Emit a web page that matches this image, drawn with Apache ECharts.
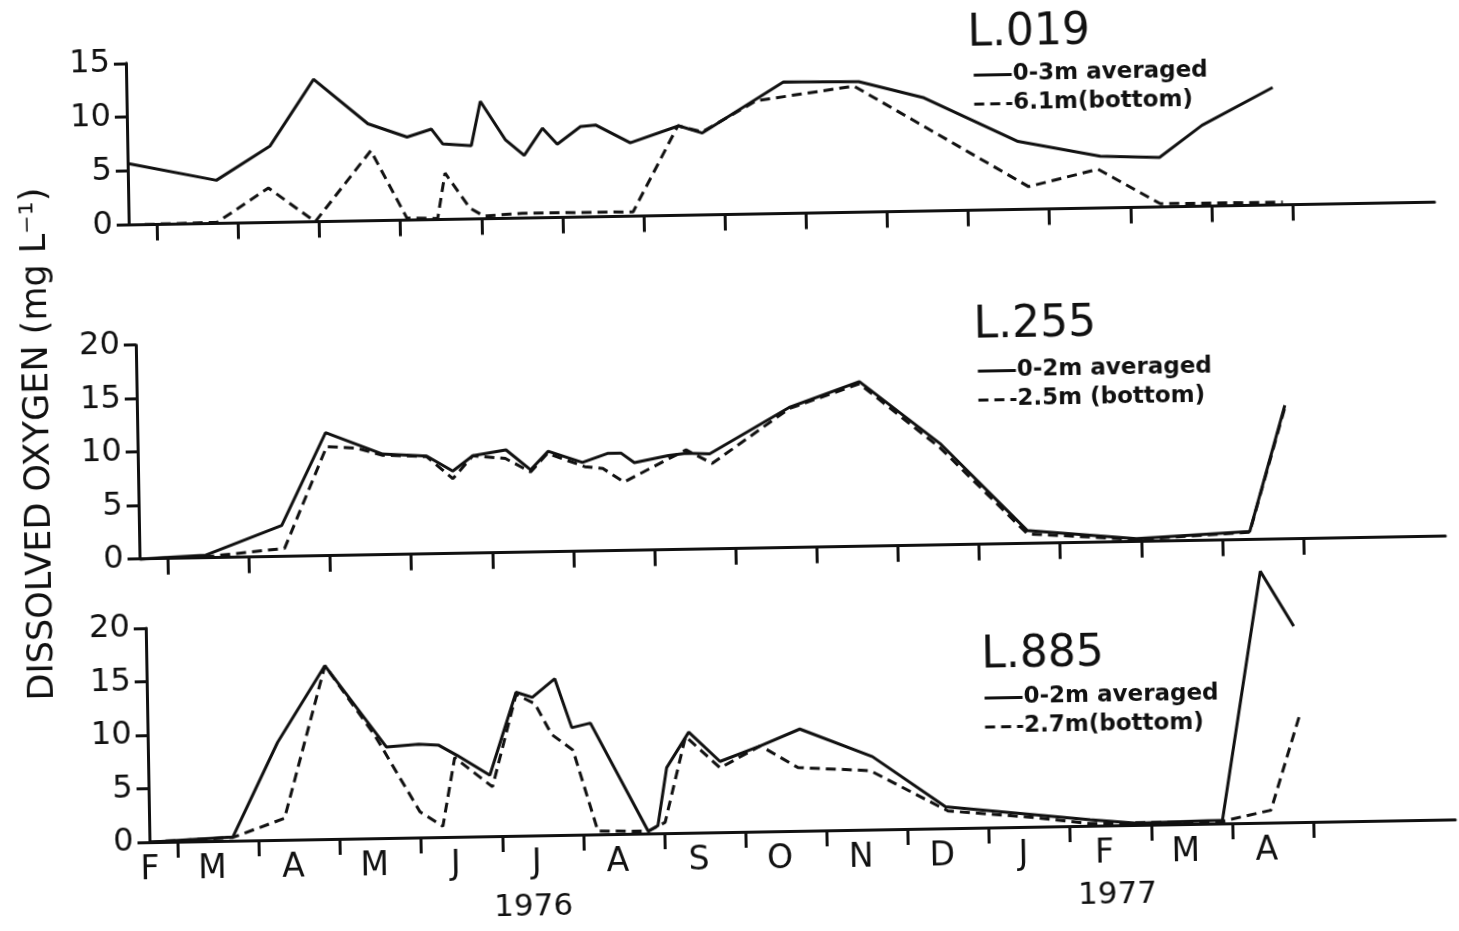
<!DOCTYPE html>
<html>
<head>
<meta charset="utf-8">
<title>Dissolved oxygen - L.019, L.255, L.885</title>
<script src="https://cdn.jsdelivr.net/npm/echarts@6/dist/echarts.min.js"></script>
<style>
  html, body { margin: 0; padding: 0; background: #fff; overflow: hidden; }
  /* the scanned figure sits about one degree off level */
  #chart { width: 1459px; height: 931px; transform: rotate(-1deg); }
</style>
</head>
<body>
<div id="chart"></div>
<script>
// x = months counted from 1 Jan 1976 (2 = 1 Mar 1976, 14 = 1 Mar 1977)
const monthLetters = ['F', 'M', 'A', 'M', 'J', 'J', 'A', 'S', 'O', 'N', 'D', 'J', 'F', 'M', 'A'];
const monthTicks = [2, 3, 4, 5, 6, 7, 8, 9, 10, 11, 12, 13, 14, 15, 16];
const yearLabels = ['1976', '1977'];

// L.019
const l019SurfMonths = [1.65, 2.74, 3.41, 3.96, 4.62, 5.10, 5.40, 5.54, 5.89, 6.01, 6.31, 6.54, 6.77, 6.95, 7.24, 7.43, 7.85, 8.45, 8.74, 9.75, 10.68, 11.48, 12.63, 13.64, 14.37, 14.90, 15.78];
const l019Surf = [5.7, 4.0, 7.1, 13.2, 9.0, 7.7, 8.4, 7.0, 6.8, 10.9, 7.3, 5.8, 8.3, 6.8, 8.4, 8.5, 6.8, 8.3, 7.6, 12.2, 12.1, 10.5, 6.3, 4.8, 4.6, 7.5, 10.9];
const l019BotMonths = [1.65, 2.74, 3.38, 3.95, 4.65, 5.08, 5.46, 5.56, 5.86, 6.03, 6.50, 7.87, 8.44, 8.74, 9.41, 10.62, 12.75, 13.61, 14.37, 15.88];
const l019Bot = [0, 0.1, 3.2, 0, 6.5, 0.2, 0.1, 4.3, 1.0, 0.25, 0.45, 0.4, 8.3, 7.7, 10.5, 11.7, 2.1, 3.6, 0.3, 0.25];

// L.255
const l255SurfMonths = [1.66, 2.47, 3.41, 3.97, 4.67, 5.21, 5.53, 5.78, 6.19, 6.49, 6.71, 7.13, 7.44, 7.61, 7.77, 8.19, 8.41, 8.70, 9.69, 10.56, 11.54, 12.60, 13.94, 15.34, 15.80];
const l255Surf = [0, 0.26, 2.9, 11.5, 9.4, 9.15, 7.7, 9.1, 9.6, 7.7, 9.4, 8.3, 9.1, 9.1, 8.2, 8.8, 9.0, 8.9, 13.1, 15.4, 9.5, 1.2, 0.27, 0.77, 12.5];
const l255BotMonths = [1.66, 2.47, 3.44, 3.98, 4.35, 4.67, 5.21, 5.53, 5.78, 6.18, 6.49, 6.70, 7.16, 7.38, 7.64, 8.19, 8.41, 8.73, 9.69, 10.56, 11.54, 12.60, 13.94, 15.34, 15.80];
const l255Bot = [0, 0.1, 0.76, 10.2, 10.0, 9.3, 9.1, 7.0, 9.1, 8.8, 7.5, 9.2, 7.9, 7.7, 6.4, 8.5, 9.3, 8.0, 13.0, 15.2, 9.1, 0.9, 0.2, 0.7, 12.3];

// L.885
const l885SurfMonths = [1.65, 2.68, 3.25, 3.85, 4.59, 4.99, 5.23, 5.46, 5.86, 6.20, 6.40, 6.68, 6.88, 7.11, 7.80, 7.92, 8.04, 8.32, 8.70, 9.20, 9.69, 10.58, 11.47, 13.25, 13.82, 14.88, 15.40, 15.80];
const l885Surf = [0, 0.35, 9.1, 16.2, 8.5, 8.7, 8.6, 7.6, 5.7, 13.4, 12.9, 14.6, 10.0, 10.4, 0.2, 0.7, 6.1, 9.4, 6.6, 8.0, 9.5, 6.8, 2.0, 0.55, 0.15, 0.3, 23.5, 18.3];
const l885BotMonths = [1.65, 2.68, 3.32, 3.85, 4.45, 4.99, 5.27, 5.43, 5.89, 6.20, 6.43, 6.63, 6.89, 7.18, 7.80, 8.01, 8.28, 8.70, 9.20, 9.66, 10.55, 11.50, 12.56, 13.25, 14.88, 15.48, 15.85];
const l885Bot = [0, 0.3, 2.0, 16.2, 9.6, 2.4, 1.0, 7.4, 4.6, 13.2, 12.3, 9.4, 7.9, 0.3, 0.2, 1.0, 9.0, 6.0, 8.0, 5.9, 5.5, 1.6, 0.85, 0.2, 0.2, 1.15, 9.9];

const xMin = 1.65, xMax = 17.75;
const ink = '#111';
const font = 'DejaVu Sans';

// month letters sit a little left of the middle of each month, Feb at the axis start
const labelValues = monthLetters.map((m, i) => i === 0 ? xMin : i + 1.42);

function xAxisFor(idx, showLabels) {
    return {
        type: 'value', gridIndex: idx, min: xMin, max: xMax,
        axisLine: { show: true, onZero: false, lineStyle: { color: ink, width: 3 } },
        axisTick: { show: true, customValues: monthTicks, length: 16, lineStyle: { color: ink, width: 3 } },
        axisLabel: showLabels ? {
            customValues: labelValues,
            formatter: v => monthLetters[Math.floor(v) - 1],
            color: ink, fontFamily: font, fontSize: 33, margin: 12
        } : { show: false },
        splitLine: { show: false }
    };
}

function yAxisFor(idx, max) {
    return {
        type: 'value', gridIndex: idx, min: 0, max: max, interval: 5,
        axisLine: { show: true, lineStyle: { color: ink, width: 3 } },
        axisTick: { show: true, length: 12, lineStyle: { color: ink, width: 3 } },
        axisLabel: { color: ink, fontFamily: font, fontSize: 32, margin: 16 },
        splitLine: { show: false }
    };
}

function lineSeries(name, idx, months, vals, dashed) {
    return {
        name: name, type: 'line', xAxisIndex: idx, yAxisIndex: idx,
        data: months.map((m, i) => [m, vals[i]]),
        symbol: 'none', clip: false,
        lineStyle: { color: ink, width: 3, type: dashed ? [10, 6] : 'solid' },
        itemStyle: { color: ink }
    };
}

function legendFor(names, left, top) {
    return {
        data: names, orient: 'vertical', left: left, top: top, padding: 0,
        itemGap: 6, itemWidth: 38, itemHeight: 14, selectedMode: false,
        itemStyle: { opacity: 0 },   // line only, no marker in the key
        lineStyle: { width: 3, color: ink },
        textStyle: { color: ink, fontFamily: font, fontWeight: 'bold', fontSize: 23, padding: [0, 0, 4, -4] }
    };
}

function label(text, x, y, size, center, rot) {
    return {
        type: 'text', x: x, y: y, rotation: rot || 0,
        style: {
            text: text, font: size + 'px "DejaVu Sans"', fill: ink,
            textAlign: center ? 'center' : 'left', align: center ? 'center' : 'left',
            textVerticalAlign: 'middle', verticalAlign: 'middle'
        }
    };
}

const chart = echarts.init(document.getElementById('chart'));
chart.setOption({
    animation: false,
    backgroundColor: '#fff',
    grid: [
        { left: 133, top: 52.8, width: 1306, height: 161.7 },
        { left: 138, top: 334.7, width: 1306, height: 214 },
        { left: 143, top: 617.9, width: 1306, height: 214 }
    ],
    xAxis: [xAxisFor(0, false), xAxisFor(1, false), xAxisFor(2, true)],
    yAxis: [yAxisFor(0, 15), yAxisFor(1, 20), yAxisFor(2, 20)],
    legend: [
        legendFor(['0-3m averaged', '6.1m(bottom)'], 979, 68),
        legendFor(['0-2m averaged', '2.5m (bottom)'], 978, 364),
        legendFor(['0-2m averaged ', '2.7m(bottom)'], 979, 691)
    ],
    series: [
        lineSeries('0-3m averaged', 0, l019SurfMonths, l019Surf, false),
        lineSeries('6.1m(bottom)', 0, l019BotMonths, l019Bot, true),
        lineSeries('0-2m averaged', 1, l255SurfMonths, l255Surf, false),
        lineSeries('2.5m (bottom)', 1, l255BotMonths, l255Bot, true),
        lineSeries('0-2m averaged ', 2, l885SurfMonths, l885Surf, false),
        lineSeries('2.7m(bottom)', 2, l885BotMonths, l885Bot, true)
    ],
    graphic: [
        label('L.019', 975, 39, 44),
        label('L.255', 976, 331, 44),
        label('L.885', 978, 661, 44),
        label(yearLabels[0], 526, 904, 31, true),
        label(yearLabels[1], 1110, 902, 31, true),
        label('DISSOLVED OXYGEN (mg L⁻¹)', 40, 432, 35, true, Math.PI / 2)
    ]
});
</script>
</body>
</html>
